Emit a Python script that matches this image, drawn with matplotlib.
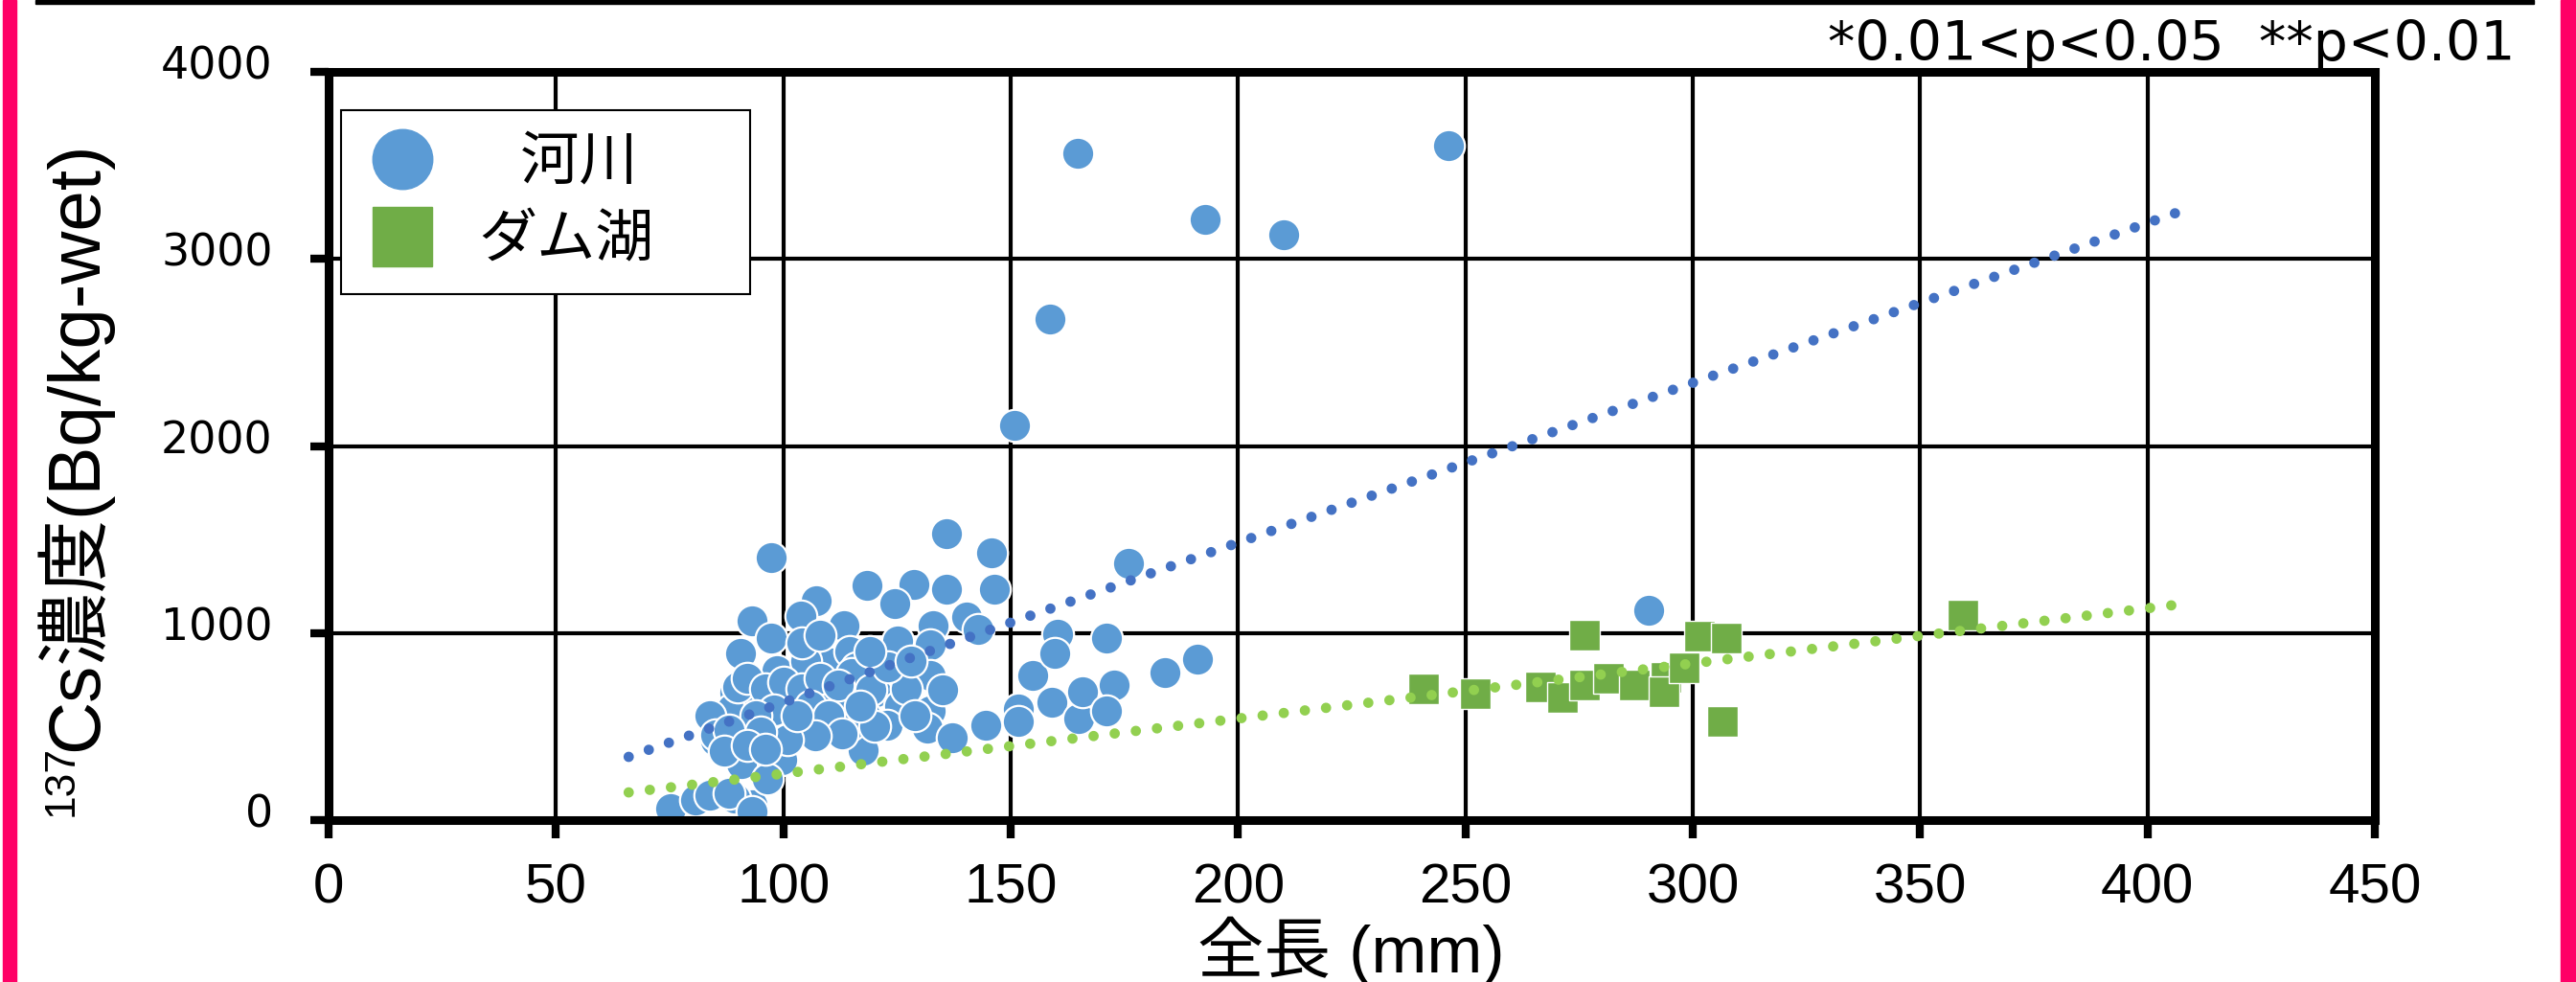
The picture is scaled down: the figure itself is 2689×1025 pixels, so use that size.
import matplotlib.pyplot as plt
import matplotlib.transforms as mtransforms
from matplotlib.lines import Line2D
from matplotlib.patches import Rectangle

# 河川 (river) samples: total length (mm), 137Cs (Bq/kg-wet)
river_len = [164.8, 192.8, 210.1, 246.2, 158.6, 150.8, 290.3,
             97.3, 107.2, 93.1, 97.3, 90.6, 113.3, 103.8, 98.5, 110.5, 89.4,
             104.5, 111.5, 109.3, 100.6, 95.7, 85.2, 90.8, 99.6, 75.3, 80.6,
             83.8, 93.2, 89.4, 96.4, 85.9, 88.7, 114.7, 115.0, 102.0, 83.8,
             135.8, 145.8, 118.4, 128.8, 135.8, 146.5, 124.5, 140.4, 133.0,
             125.2, 132.3, 142.8, 116.1, 132.3, 120.3, 125.6, 132.3, 122.8,
             131.6, 137.2, 117.5, 114.7, 144.6, 151.6, 151.6, 154.8, 160.4,
             159.7, 159.0, 165.0, 165.7,
             176.0, 171.0, 184.0, 191.0, 172.7, 171.0,
             105.0, 115.0, 119.2, 94.7, 90.0, 85.2, 88.1, 93.2, 135.0,
             92.0, 96.0, 100.0, 104.0, 108.0, 112.0, 106.0, 98.0, 94.0, 110.0,
             118.0, 120.0, 113.0, 107.0, 101.0, 95.0, 88.0, 87.0, 92.0, 96.0,
             103.0, 117.0, 127.0, 129.0, 123.0, 128.0, 119.0, 104.0, 108.0]
river_cs = [3563, 3210, 3128, 3604, 2677, 2109, 1121,
            1404, 1173, 1063, 973, 893, 1041, 1090, 799, 841, 679,
            492, 500, 662, 508, 525, 423, 304, 321, 61, 108,
            133, 82, 116, 219, 527, 594, 901, 645, 645, 560,
            1532, 1427, 1254, 1260, 1234, 1234, 1157, 1085, 1038,
            960, 935, 1020, 816, 773, 688, 611, 585, 508,
            492, 440, 372, 508, 508, 594, 530, 773, 994,
            893, 628, 543, 688,
            1371, 973, 790, 858, 722, 585,
            850, 783, 696, 628, 713, 456, 143, 48, 696,
            760, 700, 740, 700, 760, 720, 610, 590, 560, 560,
            560, 500, 460, 450, 430, 470, 480, 370, 400, 380,
            560, 610, 700, 560, 820, 850, 900, 950, 990]

# ダム湖 (dam lake) samples
dam_len = [240.9, 252.1, 266.5, 271.3, 276.2, 276.2, 281.4, 287.1,
           294.0, 293.7, 298.1, 301.5, 307.4, 306.5, 359.5]
dam_cs = [701, 676, 712, 655, 988, 722, 758, 722,
          763, 686, 814, 985, 973, 527, 1096]

# approximate trend lines (end points)
river_fit_x = [66, 407]
river_fit_y = [338, 3252]
dam_fit_x = [66, 407]
dam_fit_y = [148, 1153]

x_ticks = [0, 50, 100, 150, 200, 250, 300, 350, 400, 450]
y_ticks = [0, 1000, 2000, 3000, 4000]

blue = '#5B9BD5'
green = '#70AD47'
W, H = 2689, 1025

fig = plt.figure(figsize=(W / 100, H / 100), dpi=100)
ax = fig.add_axes([343 / W, 1 - 856 / H, (2479 - 343) / W, (856 - 75) / H])

ax.scatter(river_len, river_cs, s=580, marker='o', c=blue,
           edgecolors='white', linewidths=1.6, zorder=3)
ax.scatter(dam_len, dam_cs, s=560, marker='s', c=green,
           edgecolors='white', linewidths=1.0, zorder=3)

ax.plot(river_fit_x, river_fit_y, color='#4472C4', lw=7.8,
        ls=(0, (0.001, 2.05)), dash_capstyle='round', zorder=4)
ax.plot(dam_fit_x, dam_fit_y, color='#92D050', lw=7.8,
        ls=(0, (0.001, 2.05)), dash_capstyle='round', zorder=4)

ax.set_xlim(0, 450)
ax.set_ylim(0, 4000)
ax.set_xticks(x_ticks)
ax.set_yticks(y_ticks)
ax.set_axisbelow(True)
ax.grid(True, color='black', lw=3)
for sp in ax.spines.values():
    sp.set_linewidth(6.5)
    sp.set_zorder(5)

ax.tick_params(axis='both', direction='out', length=14, width=6, color='black')
ax.tick_params(axis='x', pad=18)
ax.tick_params(axis='y', pad=28)
for lab in ax.get_xticklabels():
    lab.set_family('Liberation Sans')
    lab.set_fontsize(42)
for lab in ax.get_yticklabels():
    lab.set_family('DejaVu Sans')
    lab.set_fontsize(33)
    lab.set_transform(lab.get_transform() +
                      mtransforms.ScaledTranslation(0, 10 / 100, fig.dpi_scale_trans))

handles = [Line2D([], [], ls='none', marker='o', ms=45, mfc=blue, mec=blue),
           Line2D([], [], ls='none', marker='s', ms=45, mfc=green, mec=green)]
leg = ax.legend(handles, ['\u2002 河川', 'ダム湖'],
                loc='upper left', bbox_to_anchor=(0.006, 0.949 - 0.2535, 0.2, 0.2535),
                mode='expand', borderaxespad=0, borderpad=0.4,
                handlelength=1.3, handletextpad=0.65, labelspacing=0.3,
                fancybox=False, framealpha=1, edgecolor='black',
                prop={'family': ['Noto Sans CJK JP', 'DejaVu Sans'], 'size': 44})
leg.get_frame().set_linewidth(1.5)
leg.set_zorder(6)

lab_font = ['Liberation Sans', 'Noto Sans CJK JP', 'DejaVu Sans']
fig.text(101 / W, 1 - 784 / H, 'Cs濃度(Bq/kg-wet)', rotation=90,
         rotation_mode='anchor', ha='left', va='baseline',
         family=lab_font, fontsize=55)
fig.text(76 / W, 1 - 852 / H, '137', rotation=90,
         rotation_mode='anchor', ha='left', va='baseline',
         family=lab_font, fontsize=32)
fig.text(1410 / W, 1 - 1015 / H, '全長 (mm)', ha='center', va='baseline',
         family=lab_font, fontsize=50)
fig.text(2625 / W, 1 - 63 / H, '*0.01<p<0.05  **p<0.01', ha='right',
         va='baseline', family='DejaVu Sans', fontsize=41)

# frame decorations
fig.add_artist(Rectangle((3 / W, 0), 14 / W, 1, color='#FF0066',
                         transform=fig.transFigure))
fig.add_artist(Rectangle((2673 / W, 0), 16 / W, 1, color='#FF0066',
                         transform=fig.transFigure))
fig.add_artist(Rectangle((37 / W, 1 - 4 / H), (2645 - 37) / W, 4 / H,
                         color='black', transform=fig.transFigure))

fig.savefig('out.png', dpi=100, facecolor='white')
